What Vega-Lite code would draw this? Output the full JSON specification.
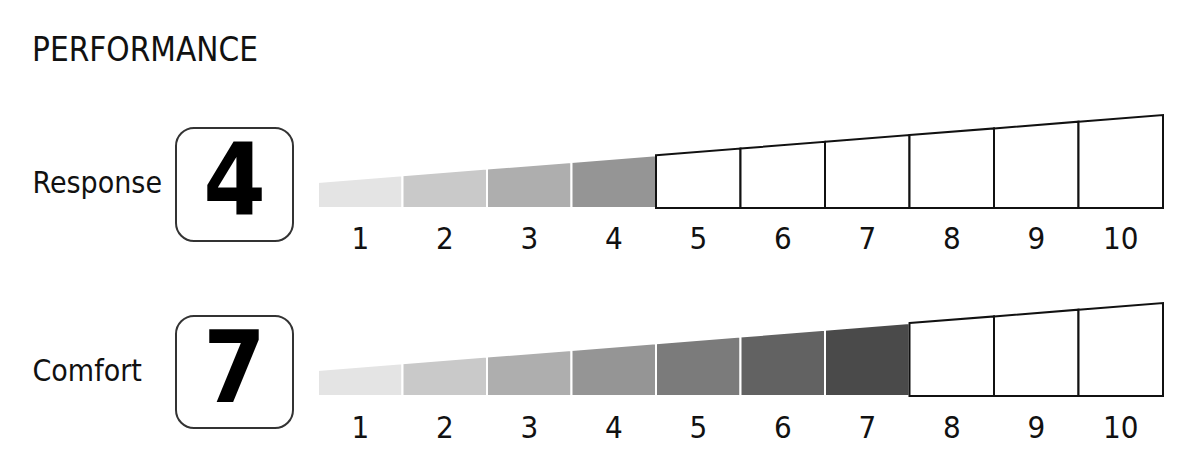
{
  "$schema": "https://vega.github.io/schema/vega-lite/v6.json",
  "padding": {"left": 32, "top": 35, "right": 36, "bottom": 10},
  "background": "white",
  "title": {"text": "PERFORMANCE", "anchor": "start", "font": "DejaVu Sans Condensed, Roboto, sans-serif", "fontSize": 33, "fontWeight": "normal", "color": "#111111", "offset": 43},
  "config": {"view": {"stroke": null}, "font": "DejaVu Sans Condensed, Roboto, sans-serif"},
  "datasets": {
    "scores": [
      {"metric": "Response", "score": 4},
      {"metric": "Comfort", "score": 7}
    ],
    "points": [
      {"metric": "Response", "seg": 1, "x": 0, "h": 26},
      {"metric": "Response", "seg": 1, "x": 1, "h": 32.7},
      {"metric": "Response", "seg": 2, "x": 1, "h": 32.7},
      {"metric": "Response", "seg": 2, "x": 2, "h": 39.4},
      {"metric": "Response", "seg": 3, "x": 2, "h": 39.4},
      {"metric": "Response", "seg": 3, "x": 3, "h": 46.1},
      {"metric": "Response", "seg": 4, "x": 3, "h": 46.1},
      {"metric": "Response", "seg": 4, "x": 4, "h": 52.8},
      {"metric": "Response", "seg": 5, "x": 4, "h": 52.8},
      {"metric": "Response", "seg": 5, "x": 5, "h": 59.5},
      {"metric": "Response", "seg": 6, "x": 5, "h": 59.5},
      {"metric": "Response", "seg": 6, "x": 6, "h": 66.2},
      {"metric": "Response", "seg": 7, "x": 6, "h": 66.2},
      {"metric": "Response", "seg": 7, "x": 7, "h": 72.9},
      {"metric": "Response", "seg": 8, "x": 7, "h": 72.9},
      {"metric": "Response", "seg": 8, "x": 8, "h": 79.6},
      {"metric": "Response", "seg": 9, "x": 8, "h": 79.6},
      {"metric": "Response", "seg": 9, "x": 9, "h": 86.3},
      {"metric": "Response", "seg": 10, "x": 9, "h": 86.3},
      {"metric": "Response", "seg": 10, "x": 10, "h": 93},
      {"metric": "Comfort", "seg": 1, "x": 0, "h": 26},
      {"metric": "Comfort", "seg": 1, "x": 1, "h": 32.7},
      {"metric": "Comfort", "seg": 2, "x": 1, "h": 32.7},
      {"metric": "Comfort", "seg": 2, "x": 2, "h": 39.4},
      {"metric": "Comfort", "seg": 3, "x": 2, "h": 39.4},
      {"metric": "Comfort", "seg": 3, "x": 3, "h": 46.1},
      {"metric": "Comfort", "seg": 4, "x": 3, "h": 46.1},
      {"metric": "Comfort", "seg": 4, "x": 4, "h": 52.8},
      {"metric": "Comfort", "seg": 5, "x": 4, "h": 52.8},
      {"metric": "Comfort", "seg": 5, "x": 5, "h": 59.5},
      {"metric": "Comfort", "seg": 6, "x": 5, "h": 59.5},
      {"metric": "Comfort", "seg": 6, "x": 6, "h": 66.2},
      {"metric": "Comfort", "seg": 7, "x": 6, "h": 66.2},
      {"metric": "Comfort", "seg": 7, "x": 7, "h": 72.9},
      {"metric": "Comfort", "seg": 8, "x": 7, "h": 72.9},
      {"metric": "Comfort", "seg": 8, "x": 8, "h": 79.6},
      {"metric": "Comfort", "seg": 9, "x": 8, "h": 79.6},
      {"metric": "Comfort", "seg": 9, "x": 9, "h": 86.3},
      {"metric": "Comfort", "seg": 10, "x": 9, "h": 86.3},
      {"metric": "Comfort", "seg": 10, "x": 10, "h": 93}
    ]
  },
  "spacing": 44,
  "vconcat": [
    {
      "spacing": 20,
      "hconcat": [
        {
          "data": {"name": "scores"},
          "transform": [{"filter": "datum.metric == 'Response'"}],
          "width": 117,
          "height": 126,
          "encoding": {
            "y": {"field": "metric", "type": "nominal", "scale": {"paddingInner": 0, "paddingOuter": 0.0575, "align": 1},
              "axis": {"title": null, "domain": false, "ticks": false, "labelAlign": "left", "labelPadding": 144, "labelFontSize": 30, "labelColor": "#111111", "labelFont": "DejaVu Sans Condensed, Roboto, sans-serif"}}
          },
          "layer": [
            {"mark": {"type": "rect", "cornerRadius": 18, "fill": "white", "stroke": "#333333", "strokeWidth": 2}},
            {"mark": {"type": "text", "fontSize": 100, "fontWeight": "bold", "color": "#000000", "font": "DejaVu Sans Condensed, Roboto, sans-serif"}, "encoding": {"text": {"field": "score", "type": "quantitative"}}}
          ]
        },
        {
          "data": {"name": "points"},
          "transform": [
            {"filter": "datum.metric == 'Response'"},
            {"lookup": "metric", "from": {"data": {"name": "scores"}, "key": "metric", "fields": ["score"]}}
          ],
          "width": 845,
          "height": 93,
          "resolve": {"scale": {"x": "independent"}},
          "layer": [
            {
              "transform": [{"filter": "datum.seg <= datum.score"}],
              "mark": {"type": "area", "stroke": "white", "strokeWidth": 2},
              "encoding": {
                "x": {"field": "x", "type": "quantitative", "scale": {"domain": [0, 10], "nice": false, "zero": false}, "axis": null},
                "y": {"field": "h", "type": "quantitative", "stack": null, "scale": {"domain": [0, 93], "nice": false}, "axis": null},
                "detail": {"field": "seg", "type": "ordinal"},
                "color": {"field": "seg", "type": "ordinal", "scale": {"domain": [1, 2, 3, 4, 5, 6, 7, 8, 9, 10], "range": ["#e4e4e4", "#c9c9c9", "#aeaeae", "#959595", "#7b7b7b", "#626262", "#4a4a4a", "#333333", "#222222", "#111111"]}, "legend": null}
              }
            },
            {
              "transform": [{"filter": "datum.seg > datum.score"}],
              "mark": {"type": "area", "fill": "white", "stroke": "#111111", "strokeWidth": 2},
              "encoding": {
                "x": {"field": "x", "type": "quantitative", "scale": {"domain": [0, 10], "nice": false, "zero": false}, "axis": null},
                "y": {"field": "h", "type": "quantitative", "stack": null, "scale": {"domain": [0, 93], "nice": false}, "axis": null},
                "detail": {"field": "seg", "type": "ordinal"}
              }
            },
            {
              "transform": [{"filter": "datum.x == datum.seg"}],
              "mark": {"type": "text", "fontSize": 31, "baseline": "alphabetic", "dy": 41, "color": "#111111", "font": "DejaVu Sans Condensed, Roboto, sans-serif"},
              "encoding": {
                "x": {"field": "seg", "type": "ordinal", "scale": {"paddingInner": 0, "paddingOuter": 0}, "axis": null},
                "y": {"datum": 0, "type": "quantitative"},
                "text": {"field": "seg", "type": "quantitative"}
              }
            }
          ]
        }
      ]
    },
    {
      "spacing": 20,
      "hconcat": [
        {
          "data": {"name": "scores"},
          "transform": [{"filter": "datum.metric == 'Comfort'"}],
          "width": 117,
          "height": 125,
          "encoding": {
            "y": {"field": "metric", "type": "nominal", "scale": {"paddingInner": 0, "paddingOuter": 0.058, "align": 1},
              "axis": {"title": null, "domain": false, "ticks": false, "labelAlign": "left", "labelPadding": 144, "labelFontSize": 30, "labelColor": "#111111", "labelFont": "DejaVu Sans Condensed, Roboto, sans-serif"}}
          },
          "layer": [
            {"mark": {"type": "rect", "cornerRadius": 18, "fill": "white", "stroke": "#333333", "strokeWidth": 2}},
            {"mark": {"type": "text", "fontSize": 100, "fontWeight": "bold", "color": "#000000", "font": "DejaVu Sans Condensed, Roboto, sans-serif"}, "encoding": {"text": {"field": "score", "type": "quantitative"}}}
          ]
        },
        {
          "data": {"name": "points"},
          "transform": [
            {"filter": "datum.metric == 'Comfort'"},
            {"lookup": "metric", "from": {"data": {"name": "scores"}, "key": "metric", "fields": ["score"]}}
          ],
          "width": 845,
          "height": 93,
          "resolve": {"scale": {"x": "independent"}},
          "layer": [
            {
              "transform": [{"filter": "datum.seg <= datum.score"}],
              "mark": {"type": "area", "stroke": "white", "strokeWidth": 2},
              "encoding": {
                "x": {"field": "x", "type": "quantitative", "scale": {"domain": [0, 10], "nice": false, "zero": false}, "axis": null},
                "y": {"field": "h", "type": "quantitative", "stack": null, "scale": {"domain": [0, 93], "nice": false}, "axis": null},
                "detail": {"field": "seg", "type": "ordinal"},
                "color": {"field": "seg", "type": "ordinal", "scale": {"domain": [1, 2, 3, 4, 5, 6, 7, 8, 9, 10], "range": ["#e4e4e4", "#c9c9c9", "#aeaeae", "#959595", "#7b7b7b", "#626262", "#4a4a4a", "#333333", "#222222", "#111111"]}, "legend": null}
              }
            },
            {
              "transform": [{"filter": "datum.seg > datum.score"}],
              "mark": {"type": "area", "fill": "white", "stroke": "#111111", "strokeWidth": 2},
              "encoding": {
                "x": {"field": "x", "type": "quantitative", "scale": {"domain": [0, 10], "nice": false, "zero": false}, "axis": null},
                "y": {"field": "h", "type": "quantitative", "stack": null, "scale": {"domain": [0, 93], "nice": false}, "axis": null},
                "detail": {"field": "seg", "type": "ordinal"}
              }
            },
            {
              "transform": [{"filter": "datum.x == datum.seg"}],
              "mark": {"type": "text", "fontSize": 31, "baseline": "alphabetic", "dy": 42, "color": "#111111", "font": "DejaVu Sans Condensed, Roboto, sans-serif"},
              "encoding": {
                "x": {"field": "seg", "type": "ordinal", "scale": {"paddingInner": 0, "paddingOuter": 0}, "axis": null},
                "y": {"datum": 0, "type": "quantitative"},
                "text": {"field": "seg", "type": "quantitative"}
              }
            }
          ]
        }
      ]
    }
  ]
}
